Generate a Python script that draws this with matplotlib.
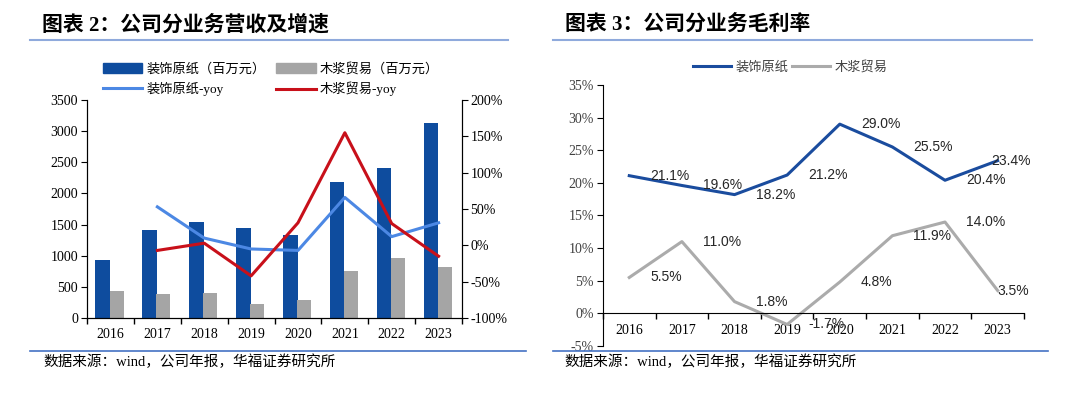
import matplotlib.pyplot as plt
import numpy as np
from matplotlib.lines import Line2D
from matplotlib.patches import Patch

plt.rcParams['font.family'] = ['Liberation Serif', 'Noto Sans CJK SC']
plt.rcParams['axes.unicode_minus'] = False

years = ['2016', '2017', '2018', '2019', '2020', '2021', '2022', '2023']

# 营收（百万元）
paper_rev = [930, 1410, 1535, 1440, 1325, 2180, 2405, 3125]
pulp_rev = [430, 385, 395, 220, 290, 750, 970, 825]

# 同比（%）
paper_yoy = [np.nan, 53, 10, -5, -7, 66, 12, 31]
pulp_yoy = [np.nan, -7, 3, -42, 31, 155, 30, -15]

# 毛利率（%）
paper_margin = [21.1, 19.6, 18.2, 21.2, 29.0, 25.5, 20.4, 23.4]
pulp_margin = [5.5, 11.0, 1.8, -1.7, 4.8, 11.9, 14.0, 3.5]

DARK_BLUE = '#0E4C9E'
GREY = '#A5A5A5'
LIGHT_BLUE = '#4C88E4'
RED = '#C8101A'
LINE_BLUE = '#1A4C9E'
LINE_GREY = '#ABABAB'

fig = plt.figure(figsize=(10.8, 3.97), dpi=100)
x = np.arange(len(years))

# ---- 左图：营收及增速 ----
ax = fig.add_axes([0.0806, 0.199, 0.3472, 0.549])
ax.bar(x - 0.165, paper_rev, width=0.31, color=DARK_BLUE)
ax.bar(x + 0.13, pulp_rev, width=0.30, color=GREY)
ax.set_xlim(-0.5, 7.5)
ax.set_ylim(0, 3500)
ax.set_yticks(range(0, 3501, 500))
ax.set_xticks(np.arange(-0.5, 8, 1))
ax.set_xticklabels([])
ax.set_xticks(x, labels=years, minor=True)
ax.tick_params(axis='x', which='major', direction='out', length=4, width=1)
ax.tick_params(axis='x', which='minor', length=0, pad=7, labelsize=10)
ax.tick_params(axis='y', direction='out', length=4.5, pad=2, labelsize=10)
ax.spines['top'].set_visible(False)

ax2 = ax.twinx()
ax2.plot(x, paper_yoy, color=LIGHT_BLUE, lw=2.2)
ax2.plot(x, pulp_yoy, color=RED, lw=2.2)
ax2.set_ylim(-100, 200)
ax2.set_yticks(range(-100, 201, 50))
ax2.set_yticklabels([f'{v}%' for v in range(-100, 201, 50)])
ax2.tick_params(axis='y', direction='out', length=4.5, pad=1.5, labelsize=10)
ax2.spines['top'].set_visible(False)

fig.legend(handles=[Patch(color=DARK_BLUE), Line2D([], [], color=LIGHT_BLUE, lw=2.2),
                    Patch(color=GREY), Line2D([], [], color=RED, lw=2.2)],
           labels=['装饰原纸（百万元）', '装饰原纸-yoy', '木浆贸易（百万元）', '木浆贸易-yoy'],
           ncol=2, loc='upper left', bbox_to_anchor=(0.095, 0.842), frameon=False,
           fontsize=9.5, handlelength=3.0, handletextpad=0.3, columnspacing=0.8,
           borderpad=0, borderaxespad=0, labelspacing=0.45)

# ---- 右图：毛利率 ----
axr = fig.add_axes([0.5583, 0.1285, 0.3898, 0.6574])
axr.plot(x, paper_margin, color=LINE_BLUE, lw=2.2)
axr.plot(x, pulp_margin, color=LINE_GREY, lw=2.2)
axr.set_xlim(-0.5, 7.5)
axr.set_ylim(-5, 35)
axr.set_yticks(range(-5, 36, 5))
axr.set_yticklabels([f'{v}%' for v in range(-5, 36, 5)])
axr.spines['bottom'].set_position(('data', 0))
axr.spines['top'].set_visible(False)
axr.spines['right'].set_visible(False)
axr.set_xticks(np.arange(-0.5, 8, 1))
axr.set_xticklabels([])
axr.set_xticks(x, labels=years, minor=True)
axr.tick_params(axis='x', which='major', direction='out', length=4, width=1)
axr.tick_params(axis='x', which='minor', length=0, pad=8, labelsize=10)
axr.tick_params(axis='y', direction='out', length=4.5, pad=2, labelsize=10,
                labelcolor='#404040')

for i, v in enumerate(paper_margin):
    off = 0.4 if i < len(years) - 1 else -0.13
    axr.text(i + off, v, f'{v:.1f}%', ha='left', va='center', fontsize=10,
             family=['Liberation Sans'], color='#262626')
for i, v in enumerate(pulp_margin):
    off = 0.4 if i < len(years) - 1 else 0.0
    axr.text(i + off, v, f'{v:.1f}%', ha='left', va='center', fontsize=10,
             family=['Liberation Sans'], color='#262626')

fig.legend(handles=[Line2D([], [], color=LINE_BLUE, lw=2.2),
                    Line2D([], [], color=LINE_GREY, lw=2.2)],
           labels=['装饰原纸', '木浆贸易'], ncol=2, loc='upper left',
           bbox_to_anchor=(0.6417, 0.847), frameon=False, fontsize=9.5,
           handlelength=2.9, handletextpad=0.3, columnspacing=0.3,
           borderpad=0, borderaxespad=0, labelcolor='#404040')

# ---- 标题、分隔线、来源 ----
for tx, title in [(0.039, '图表 2：公司分业务营收及增速'), (0.523, '图表 3：公司分业务毛利率')]:
    fig.text(tx, 0.937, title, fontsize=15, fontweight='bold', va='center')
for x0, x1 in [(0.0278, 0.470), (0.512, 0.956)]:
    fig.add_artist(Line2D([x0, x1], [0.899, 0.899], color='#8FAADC', lw=1.5,
                          transform=fig.transFigure))
for x0, x1 in [(0.0278, 0.487), (0.512, 0.970)]:
    fig.add_artist(Line2D([x0, x1], [0.116, 0.116], color='#4472C4', lw=1.2,
                          transform=fig.transFigure))
for tx in [0.040, 0.523]:
    fig.text(tx, 0.088, '数据来源：wind，公司年报，华福证券研究所', fontsize=10.5, va='center')

fig.savefig('out.png', dpi=100)
